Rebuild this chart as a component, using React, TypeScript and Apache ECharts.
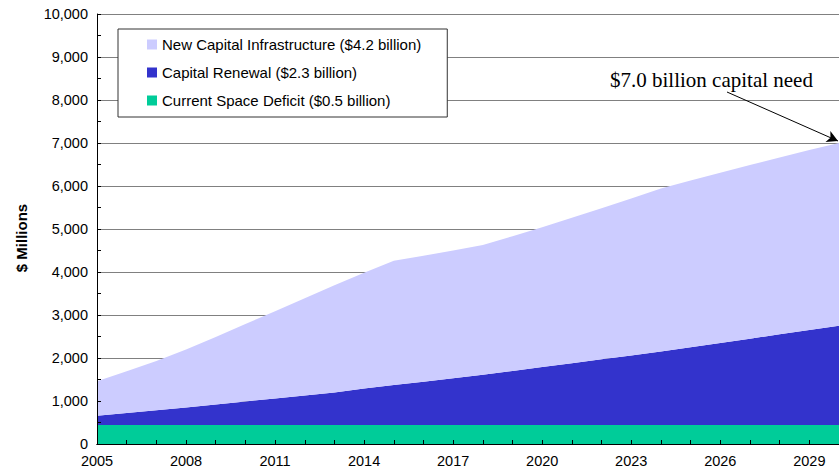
import React, { useEffect, useRef } from "react";
import * as echarts from "echarts";

const years = [
  "2005", "2006", "2007", "2008", "2009", "2010", "2011", "2012", "2013",
  "2014", "2015", "2016", "2017", "2018", "2019", "2020", "2021", "2022",
  "2023", "2024", "2025", "2026", "2027", "2028", "2029", "2030",
];

// Stacked components ($ millions)
const spaceDeficit = [
  440, 440, 440, 440, 440, 440, 440, 440, 440, 440, 440, 440, 440,
  440, 440, 440, 440, 440, 440, 440, 440, 440, 440, 440, 440, 440,
];
const capitalRenewal = [
  215, 280, 345, 410, 480, 550, 620, 690, 760, 850, 930, 1010, 1090,
  1170, 1260, 1350, 1440, 1530, 1620, 1710, 1810, 1910, 2010, 2110, 2210, 2310,
];
const newInfrastructure = [
  805, 970, 1145, 1350, 1570, 1800, 2030, 2260, 2490, 2695, 2890, 2930, 2970,
  3020, 3130, 3250, 3380, 3510, 3650, 3790, 3880, 3960, 4040, 4110, 4190, 4250,
];

const seriesNames = [
  "New Capital Infrastructure ($4.2 billion)",
  "Capital Renewal ($2.3 billion)",
  "Current Space Deficit ($0.5 billion)",
];
const colors = { light: "#CCCCFF", dark: "#3333CC", green: "#00CC99" };

const annotation = "$7.0 billion capital need";
const yAxisTitle = "$ Millions";

const SANS = '"Liberation Sans", Arial, sans-serif';

export default function App() {
  const ref = useRef<HTMLDivElement>(null);

  useEffect(() => {
    if (!ref.current) return;
    const chart = echarts.init(ref.current, null, { renderer: "svg" });
    const fmt = (v: number) => v.toLocaleString("en-US");
    const areaSeries = (name: string, data: number[], color: string, extra: any = {}) => ({
      name,
      type: "line",
      stack: "total",
      data,
      showSymbol: false,
      symbol: "none",
      lineStyle: { width: 0 },
      itemStyle: { color },
      areaStyle: { color, opacity: 1 },
      ...extra,
    });
    chart.setOption({
      animation: false,
      backgroundColor: "#ffffff",
      grid: { left: 97, right: -10, top: 14, bottom: 31, containLabel: false },
      legend: {
        orient: "vertical",
        left: 118,
        top: 29,
        data: seriesNames,
        itemWidth: 10,
        itemHeight: 10,
        itemGap: 13,
        icon: "rect",
        padding: [8, 26, 9, 29],
        backgroundColor: "#ffffff",
        borderColor: "#333333",
        borderWidth: 1,
        textStyle: { fontFamily: SANS, fontSize: 15, color: "#000" },
        selectedMode: false,
      },
      xAxis: [
        {
          type: "category",
          data: years,
          boundaryGap: false,
          z: 10,
          axisLine: { lineStyle: { color: "#000", width: 1 } },
          axisTick: { show: true, inside: true, length: 4, interval: 0, lineStyle: { color: "#000" } },
          axisLabel: { interval: 2, color: "#000", fontFamily: SANS, fontSize: 14.5, margin: 9 },
          splitLine: { show: false },
        },
        {
          type: "category",
          data: years,
          position: "top",
          boundaryGap: false,
          z: 10,
          axisLine: { show: true, lineStyle: { color: "#000", width: 1 } },
          axisTick: { show: false },
          axisLabel: { show: false },
          splitLine: { show: false },
        },
      ],
      yAxis: [
        {
          type: "value",
          min: 0,
          max: 10000,
          interval: 1000,
          z: 0,
          axisLine: { show: false },
          axisTick: { show: false },
          axisLabel: { show: false },
          splitLine: { show: true, lineStyle: { color: "#808080", width: 1 } },
        },
        {
          type: "value",
          min: 0,
          max: 10000,
          interval: 1000,
          position: "left",
          z: 10,
          axisLine: { show: true, lineStyle: { color: "#000", width: 1 } },
          axisTick: { show: true, inside: true, length: 4, lineStyle: { color: "#000" } },
          minorTick: { show: true, splitNumber: 2, length: 4, lineStyle: { color: "#000" } },
          axisLabel: { color: "#000", fontFamily: SANS, fontSize: 14.5, margin: 9, formatter: fmt },
          splitLine: { show: false },
        },
      ],
      series: [
        areaSeries(seriesNames[2], spaceDeficit, colors.green),
        areaSeries(seriesNames[1], capitalRenewal, colors.dark),
        areaSeries(seriesNames[0], newInfrastructure, colors.light, {
          markLine: {
            silent: true,
            animation: false,
            symbol: ["none", "arrow"],
            symbolSize: [9, 11],
            label: { show: false },
            lineStyle: { color: "#000", width: 1, type: "solid" },
            data: [[{ x: 727, y: 92 }, { x: 838, y: 141 }]],
          },
        }),
      ],
      graphic: [
        {
          type: "text",
          left: 610,
          top: 69,
          z: 20,
          style: {
            text: annotation,
            font: '21px "Liberation Serif", "Times New Roman", serif',
            fill: "#000",
          },
        },
        {
          type: "text",
          x: 21,
          y: 238,
          rotation: Math.PI / 2,
          z: 20,
          style: {
            text: yAxisTitle,
            font: 'bold 15px "Liberation Sans", Arial, sans-serif',
            fill: "#000",
            align: "center",
            verticalAlign: "middle",
          },
        },
      ],
    });
    return () => chart.dispose();
  }, []);

  return <div ref={ref} style={{ width: 839, height: 475, position: "absolute", left: 0, top: 0 }} />;
}
